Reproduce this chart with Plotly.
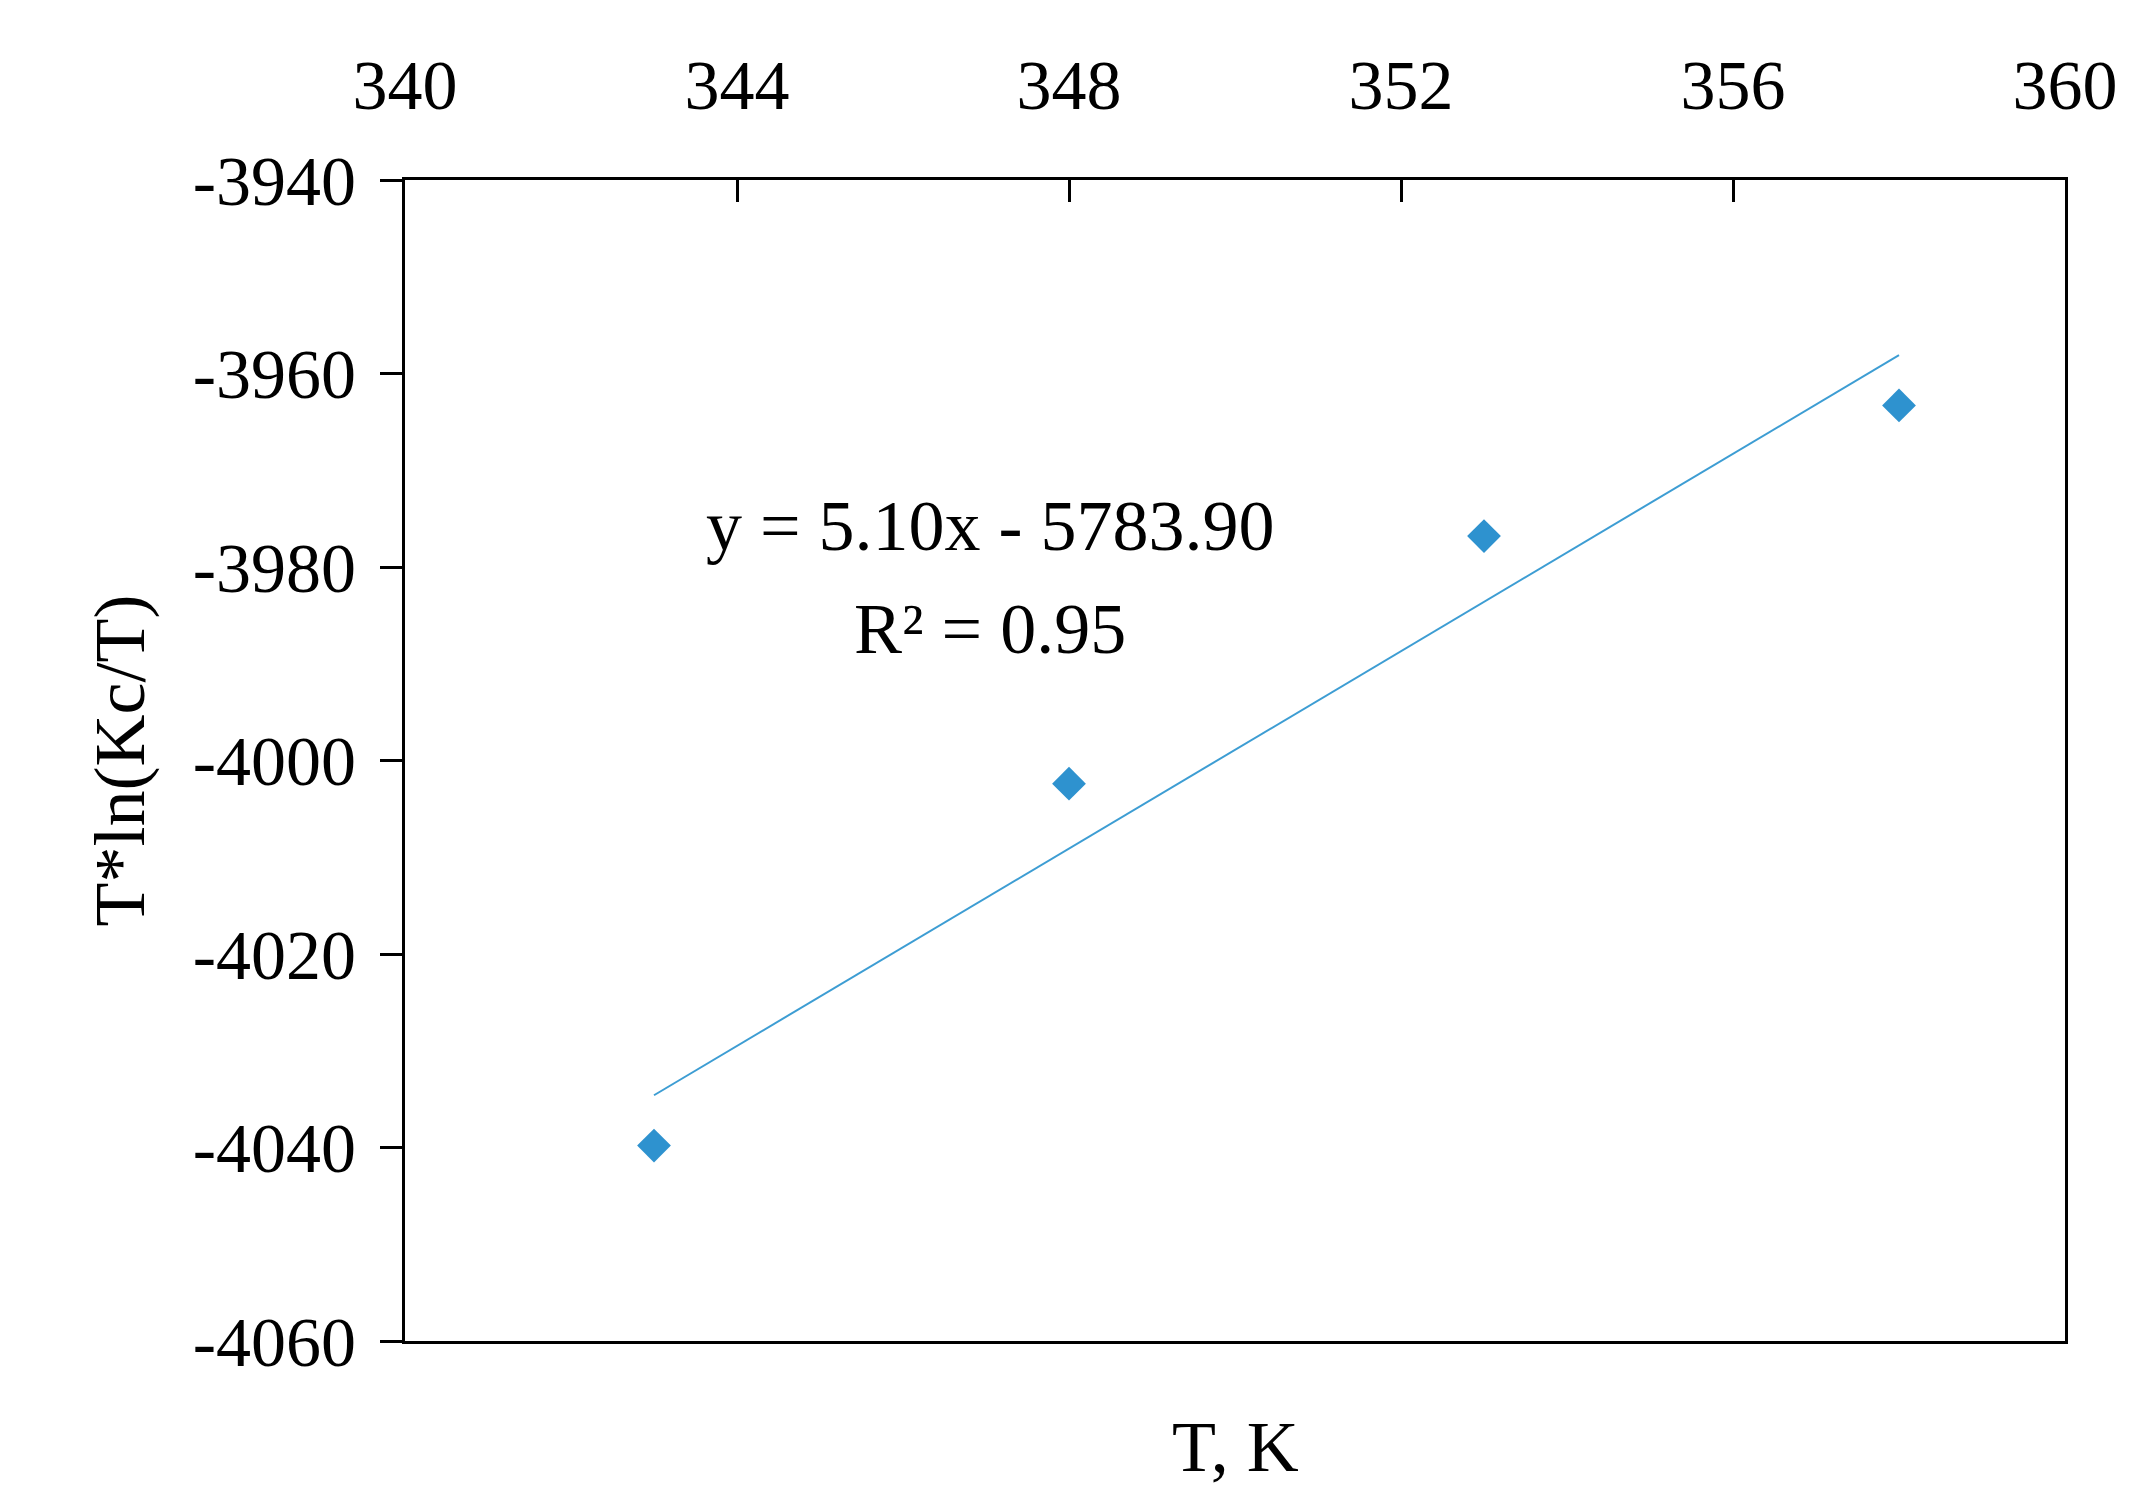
import plotly.graph_objects as go

T = [343, 348, 353, 358]
Y = [-4039.8, -4002.4, -3976.8, -3963.3]
slope, intercept = 5.10, -5783.90
line_x = [343, 358]
line_y = [slope * x + intercept for x in line_x]
x_ticks = [340, 344, 348, 352, 356, 360]
y_ticks = [-4060, -4040, -4020, -4000, -3980, -3960, -3940]

F = "Liberation Serif"
fig = go.Figure()
fig.add_trace(go.Scatter(x=line_x, y=line_y, mode="lines",
                         line=dict(color="#3d9dd3", width=2), showlegend=False))
fig.add_trace(go.Scatter(x=T, y=Y, mode="markers",
                         marker=dict(symbol="diamond", size=26, color="#2e92cf"), showlegend=False))
fig.add_annotation(x=347.05, y=-3975.8, text="y = 5.10x - 5783.90", showarrow=False,
                   font=dict(family=F, size=72, color="black"))
fig.add_annotation(x=347.05, y=-3986.4, text="R² = 0.95", showarrow=False,
                   font=dict(family=F, size=72, color="black"))
fig.add_annotation(x=0.5, xref="paper", y=-0.055, yref="paper", yanchor="top",
                   text="T, K", showarrow=False, font=dict(family=F, size=72, color="black"))
fig.update_layout(
    width=2139, height=1497, paper_bgcolor="white", plot_bgcolor="white",
    margin=dict(l=397, r=82, t=172, b=164),
    font=dict(family=F, size=70, color="black"),
    xaxis=dict(range=[340, 360], side="top", tickvals=x_ticks, ticktext=[str(v) for v in x_ticks],
               showgrid=False, zeroline=False, ticklabelstandoff=40,
               showline=True, mirror=True, linecolor="black", linewidth=3,
               ticks="inside", ticklen=22, tickwidth=3, tickcolor="black"),
    yaxis=dict(range=[-4060, -3940], tickvals=y_ticks, ticktext=[str(v) for v in y_ticks],
               showgrid=False, zeroline=False, ticklabelstandoff=10,
               showline=True, mirror=True, linecolor="black", linewidth=3,
               ticks="outside", ticklen=22, tickwidth=3, tickcolor="black",
               title=dict(text="T*ln(Kc/T)", font=dict(family=F, size=72), standoff=25)),
)
fig.write_html("out.html")
